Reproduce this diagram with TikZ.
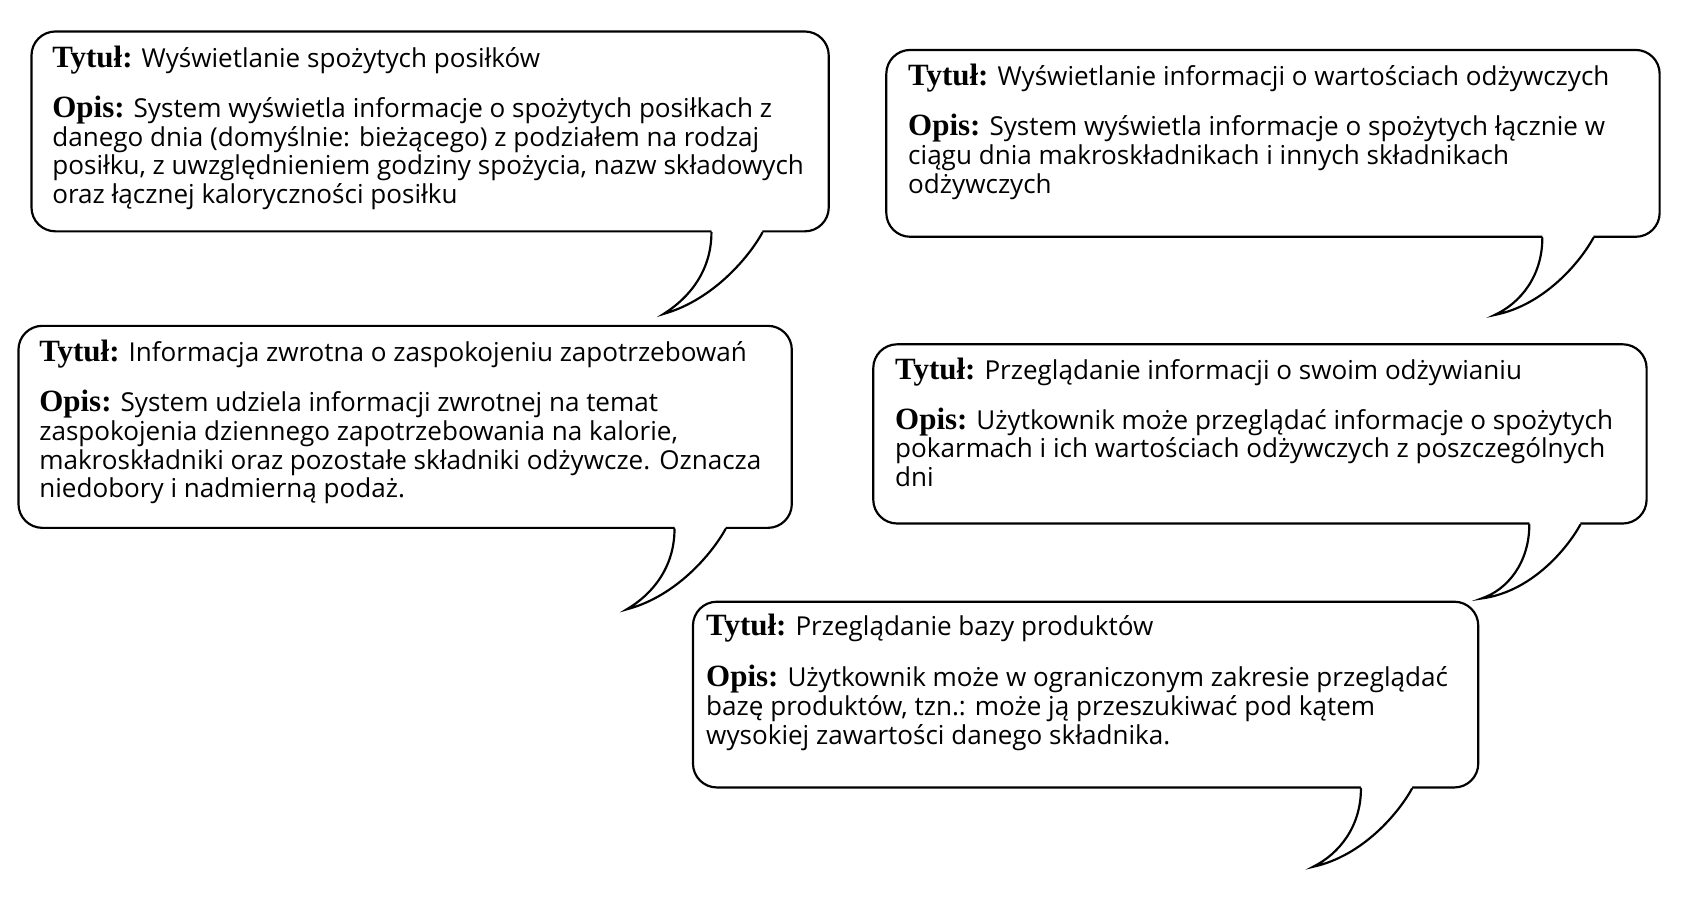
\documentclass[tikz,border=0pt]{standalone}
\usepackage{fontspec}
\setmainfont{Open Sans}
\newfontfamily\lblfont{Liberation Serif}
\usetikzlibrary{calc}
\newcommand{\lbl}[1]{{\lblfont\bfseries\fontsize{28.5}{29}\selectfont #1}}
\newcommand{\mytail}[2]{%
  \coordinate (#1L) at ([xshift=-109pt]#1.south east);
  \coordinate (#1R) at ([xshift=-62pt]#1.south east);
  \coordinate (#1tip) at ([xshift=-153pt,yshift=-#2pt]#1.south east);
  \fill[white] ([yshift=3pt]#1L) -- (#1L)
     .. controls ($(#1L)+(0,-35)$) and ($(#1L)+(-20,-60)$) .. (#1tip)
     .. controls ($(#1R)+(-45,-62)$) and ($(#1R)+(-12,-22)$) .. (#1R)
     -- ([yshift=3pt]#1R) -- cycle;
  \draw[outl, line cap=round] (#1L)
     .. controls ($(#1L)+(0,-35)$) and ($(#1L)+(-20,-60)$) .. (#1tip)
     .. controls ($(#1R)+(-45,-62)$) and ($(#1R)+(-12,-22)$) .. (#1R);
}
\begin{document}
\begin{tikzpicture}[x=1pt,y=1pt,
  outl/.style={draw=black, line width=2pt},
  bubble/.style={outl, fill=white, rounded corners=22pt, anchor=north west, inner sep=0pt},
  txt/.style={anchor=base west, inner sep=0pt, font=\fontsize{24}{26}\selectfont}]
\useasboundingbox (0,0) rectangle (1567,825);
\fill[white] (0,0) rectangle (1567,825);

% bubble 1
\node[bubble, minimum width=734pt, minimum height=184pt] (b1) at (28,797) {};
\mytail{b1}{75}
% bubble 2
\node[bubble, minimum width=712pt, minimum height=172pt] (b2) at (815,780) {};
\mytail{b2}{71}
% bubble 3
\node[bubble, minimum width=712pt, minimum height=186pt] (b3) at (16,526) {};
\mytail{b3}{74}
% bubble 4
\node[bubble, minimum width=712pt, minimum height=165pt] (b4) at (803,509) {};
\mytail{b4}{68}
% bubble 5
\node[bubble, minimum width=723pt, minimum height=171pt] (b5) at (637,272) {};
\mytail{b5}{72}

% texts bubble 1
\node[txt] (b1t) at (48,763) {\lbl{Tytuł:} Wyświetlanie spożytych posiłków};
\node[txt] (b1o1) at (48,717) {\lbl{Opis:} System wyświetla informacje o spożytych posiłkach z};
\node[txt] (b1o2) at (48,690.5) {danego dnia (domyślnie: bieżącego) z podziałem na rodzaj};
\node[txt] (b1o3) at (48,664) {posiłku, z uwzględnieniem godziny spożycia, nazw składowych};
\node[txt] (b1o4) at (48,637.5) {oraz łącznej kaloryczności posiłku};

% texts bubble 2
\node[txt] (b2t) at (836,746) {\lbl{Tytuł:} Wyświetlanie informacji o wartościach odżywczych};
\node[txt] (b2o1) at (836,700) {\lbl{Opis:} System wyświetla informacje o spożytych łącznie w};
\node[txt] (b2o2) at (836,673.5) {ciągu dnia makroskładnikach i innych składnikach};
\node[txt] (b2o3) at (836,647) {odżywczych};

% texts bubble 3
\node[txt] (b3t) at (36,492) {\lbl{Tytuł:} Informacja zwrotna o zaspokojeniu zapotrzebowań};
\node[txt] (b3o1) at (36,446) {\lbl{Opis:} System udziela informacji zwrotnej na temat};
\node[txt] (b3o2) at (36,419.5) {zaspokojenia dziennego zapotrzebowania na kalorie,};
\node[txt] (b3o3) at (36,393) {makroskładniki oraz pozostałe składniki odżywcze. Oznacza};
\node[txt] (b3o4) at (36,366.5) {niedobory i nadmierną podaż.};

% texts bubble 4
\node[txt] (b4t) at (824,476) {\lbl{Tytuł:} Przeglądanie informacji o swoim odżywianiu};
\node[txt] (b4o1) at (824,430) {\lbl{Opis:} Użytkownik może przeglądać informacje o spożytych};
\node[txt] (b4o2) at (824,403.5) {pokarmach i ich wartościach odżywczych z poszczególnych};
\node[txt] (b4o3) at (824,377) {dni};

% texts bubble 5
\node[txt] (b5t) at (650,240) {\lbl{Tytuł:} Przeglądanie bazy produktów};
\node[txt] (b5o1) at (650,193) {\lbl{Opis:} Użytkownik może w ograniczonym zakresie przeglądać};
\node[txt] (b5o2) at (650,166.5) {bazę produktów, tzn.: może ją przeszukiwać pod kątem};
\node[txt] (b5o3) at (650,140) {wysokiej zawartości danego składnika.};
\end{tikzpicture}
\end{document}
